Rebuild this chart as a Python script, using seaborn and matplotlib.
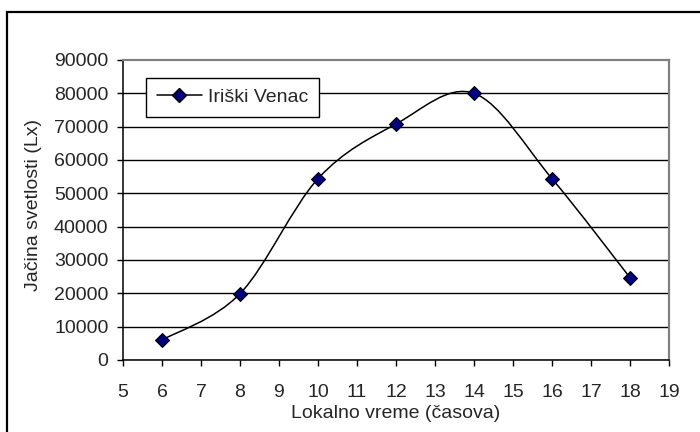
import numpy as np
import pandas as pd
import seaborn as sb
import matplotlib
matplotlib.use('Agg')
import matplotlib.pyplot as plt
from matplotlib.path import Path
from matplotlib.patches import PathPatch, Rectangle
from matplotlib.lines import Line2D

sb.set_style('white')
plt.rcParams['font.family'] = ['Liberation Sans', 'DejaVu Sans']

# data
hours = [6, 8, 10, 12, 14, 16, 18]
lux = [6000, 19900, 54400, 70800, 80000, 54400, 24700]
series_name = 'Iriški Venac'
x_ticks = list(range(5, 20))
y_ticks = list(range(0, 90001, 10000))

df = pd.DataFrame({'hour': hours, 'lux': lux})
FS = 14


def smooth_path(xs, ys):  # bezier through the points, like excel "smoothed line"
    pts = np.column_stack([xs, ys]).astype(float)
    n = len(pts)
    verts = [pts[0]]
    codes = [Path.MOVETO]
    for i in range(n - 1):
        p0 = pts[i - 1] if i > 0 else pts[i]
        p1 = pts[i]
        p2 = pts[i + 1]
        p3 = pts[i + 2] if i + 2 < n else pts[i + 1]
        verts += [p1 + (p2 - p0) / 6, p2 - (p3 - p1) / 6, p2]
        codes += [Path.CURVE4] * 3
    return Path(verts, codes)


fig = plt.figure(figsize=(7, 4.32), dpi=100)
ax = fig.add_axes([123 / 700, 72 / 432, 546 / 700, 300 / 432])

# outer chart border (cut off at right and bottom)
fig.patches.append(Rectangle((7 / 700, -0.1), 1.2, (420 / 432) + 0.1,
                             transform=fig.transFigure, fill=False,
                             edgecolor='black', lw=1.6))

ax.add_patch(PathPatch(smooth_path(df['hour'], df['lux']), fill=False,
                       edgecolor='black', lw=1.1, zorder=3))
sb.scatterplot(data=df, x='hour', y='lux', marker='D', s=50, color='#000080',
               edgecolor='black', linewidth=0.8, zorder=4, legend=False, ax=ax)

ax.set_xlim(5, 19)
ax.set_ylim(0, 90000)
ax.set_xticks(x_ticks)
ax.set_yticks(y_ticks)
ax.set_xticklabels([str(t) for t in x_ticks])
ax.set_yticklabels([str(t) for t in y_ticks])

ax.yaxis.grid(True, color='black', lw=1)
ax.xaxis.grid(False)
ax.get_ygridlines()[-1].set_visible(False)
ax.set_axisbelow(True)

for s in ['left', 'bottom']:
    ax.spines[s].set_color('black')
    ax.spines[s].set_linewidth(1.1)
for s in ['top', 'right']:
    ax.spines[s].set_color('#808080')
    ax.spines[s].set_linewidth(1.6)

ax.tick_params(axis='x', direction='out', length=4, width=1, color='black',
               labelsize=FS, pad=13.5, bottom=True)
ax.tick_params(axis='y', direction='out', length=4, width=1, color='black',
               labelsize=FS, pad=6.5, left=True)

ax.set_xlabel('Lokalno vreme (časova)', fontsize=FS)
ax.set_ylabel('Jačina svetlosti (Lx)', fontsize=FS)
ax.xaxis.set_label_coords(0.5, -0.15)
ax.yaxis.set_label_coords(-0.149, 0.517)

handle = Line2D([], [], color='black', lw=1.1, marker='D', markersize=7,
                markerfacecolor='#000080', markeredgecolor='black')
leg = ax.legend([handle], [series_name], loc='upper left',
                bbox_to_anchor=(0.042, 0.94), borderaxespad=0, fontsize=FS,
                handlelength=2.35, handletextpad=0.3, fancybox=False,
                framealpha=1, borderpad=0.55)
leg.get_frame().set_edgecolor('black')
leg.get_frame().set_linewidth(1)

fig.savefig('out.png', dpi=100)
